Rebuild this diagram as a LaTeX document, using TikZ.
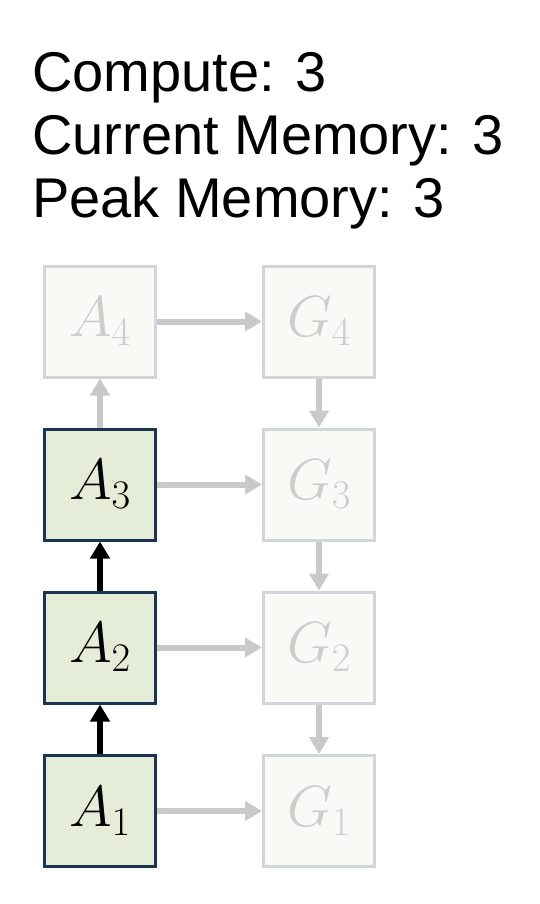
\RequirePackage{fix-cm}
\documentclass[tikz,border=0pt]{standalone}
\usepackage{fontspec}
\setmainfont{Liberation Sans}
\usetikzlibrary{arrows.meta}
\definecolor{greenfill}{HTML}{E5EDD8}
\definecolor{navyline}{HTML}{1B3550}
\definecolor{palefill}{HTML}{F9FAF6}
\definecolor{paleline}{HTML}{D2D6DA}
\definecolor{paletext}{HTML}{CDCDCD}
\definecolor{palearrow}{HTML}{C9C9C9}
\begin{document}
\begin{tikzpicture}[x=1pt,y=-1pt,
  info/.style={anchor=base west, inner sep=0, font=\fontsize{56}{62}\selectfont},
  done/.style={draw=navyline, fill=greenfill, line width=3pt, minimum size=111pt, inner sep=0, font=\fontsize{58}{60}\selectfont},
  todo/.style={draw=paleline, fill=palefill, line width=3pt, minimum size=111pt, inner sep=0, text=paletext, font=\fontsize{58}{60}\selectfont},
  fade/.style={draw=palearrow, line width=6pt, -{Triangle[length=17pt, width=19pt]}},
  live/.style={draw=black, line width=6.5pt, -{Triangle[length=17pt, width=19pt]}}]
\useasboundingbox (0,0) rectangle (540,904);
\node[info] (compute) at (32,92){Compute: 3};
\node[info] (curmem) at (32,155){Current Memory: 3};
\node[info] (peakmem) at (32,217){Peak Memory: 3};
\node[todo] (a4) at (100,321.5){$A_4$};
\node[done] (a3) at (100,484.5){$A_3$};
\node[done] (a2) at (100,647.5){$A_2$};
\node[done] (a1) at (100,811){$A_1$};
\node[todo] (g4) at (319,321.5){$G_4$};
\node[todo] (g3) at (319,484.5){$G_3$};
\node[todo] (g2) at (319,647.5){$G_2$};
\node[todo] (g1) at (319,811){$G_1$};
\draw[live](a1) -- (a2);
\draw[live](a2) -- (a3);
\draw[fade](a3) -- (a4);
\draw[fade](a4) -- (g4);
\draw[fade](a3) -- (g3);
\draw[fade](a2) -- (g2);
\draw[fade](a1) -- (g1);
\draw[fade](g4) -- (g3);
\draw[fade](g3) -- (g2);
\draw[fade](g2) -- (g1);
\end{tikzpicture}
\end{document}
